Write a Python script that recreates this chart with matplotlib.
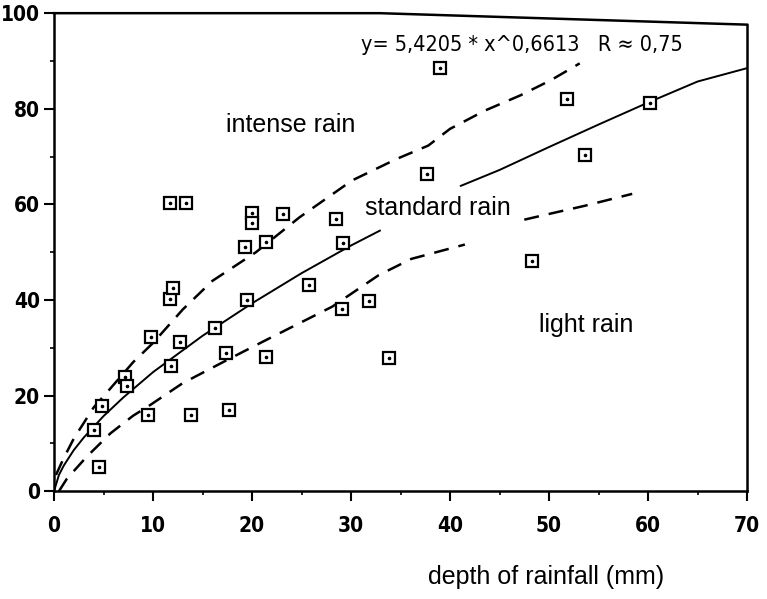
import matplotlib
matplotlib.use("Agg")
import matplotlib.pyplot as plt
from matplotlib.lines import Line2D
from matplotlib import font_manager

# Observed points (depth of rainfall mm, y value)
obs_x = [4.0, 4.5, 4.8, 7.2, 7.4, 9.5, 9.8, 11.8, 11.7, 12.0, 11.7, 13.3, 12.7,
         13.8, 16.3, 17.4, 17.7, 19.3, 19.5, 20.0, 20.0, 21.4, 21.4, 23.1, 25.8,
         28.5, 29.2, 29.1, 31.8, 33.8, 37.7, 39.0, 48.3, 51.8, 53.6, 60.2]
obs_y = [12.8, 5.0, 17.8, 23.9, 22.0, 15.9, 32.2, 26.2, 40.2, 42.5, 60.3, 60.3, 31.2,
         15.9, 34.1, 28.9, 16.9, 51.0, 40.0, 58.2, 56.2, 52.1, 28.0, 58.0, 43.1,
         57.0, 51.9, 38.1, 39.8, 27.8, 66.3, 88.5, 48.2, 82.0, 70.4, 81.3]

# Fitted curve (standard rain), split around its label
std1_x = [0.0, 0.5, 1, 2, 3, 5, 7, 10, 15, 20, 25, 30, 33]
std1_y = [0.0, 3.4, 5.4, 8.6, 11.2, 15.7, 19.6, 24.9, 32.5, 39.3, 45.6, 51.4, 54.6]
std2_x = [41, 45, 50, 55, 60, 65, 70]
std2_y = [63.8, 67.2, 72.0, 76.7, 81.3, 85.7, 88.5]

# Upper envelope (intense rain)
up_x = [0.2, 1, 2, 4, 5.7, 8, 10, 13, 16, 20.4, 24.8, 30.1, 34.6, 37.8, 40,
        43.5, 47.1, 50.2, 53.1]
up_y = [3.4, 7.0, 11.0, 17.5, 21.5, 27.0, 31.0, 38.0, 44.0, 50.0, 57.3, 65.0,
        69.5, 72.3, 75.8, 79.6, 82.8, 86.0, 89.5]

# Lower envelope (light rain), split where the gap is
lo1_x = [0.5, 1.3, 3.3, 5.7, 8, 9.7, 13, 18, 21.4, 28.1, 32.8, 36.1, 41.5]
lo1_y = [0.0, 2.6, 7.2, 12.1, 15.8, 18.0, 22.6, 28.0, 31.6, 38.6, 45.2, 48.6, 51.6]
lo2_x = [47.5, 50, 53.6, 58.4]
lo2_y = [56.8, 58.0, 59.7, 62.2]

x_ticks = [0, 10, 20, 30, 40, 50, 60, 70]
y_ticks = [0, 20, 40, 60, 80, 100]

equation = "y= 5,4205 * x^0,6613   R \u2248 0,75"
labels = ["intense rain", "standard rain", "light rain"]
label_pos = [(23.9, 76.7), (38.8, 59.3), (53.8, 34.8)]

# pick a narrow font if one is installed
names = {f.name for f in font_manager.fontManager.ttflist}
narrow = "DejaVu Sans"
for cand in ["Liberation Sans Narrow", "DejaVu Sans Condensed"]:
    if cand in names:
        narrow = cand
        break

fig = plt.figure(figsize=(7.67, 5.99), dpi=100)
ax = fig.add_axes([0.0704, 0.180, 0.9036, 0.798])
ax.set_xlim(0, 70)
ax.set_ylim(0, 100)

lw_curve = 1.4
ax.plot(std1_x, std1_y, color="black", lw=lw_curve, solid_capstyle="butt")
ax.plot(std2_x, std2_y, color="black", lw=lw_curve, solid_capstyle="butt")
ax.plot(up_x, up_y, color="black", lw=1.8, linestyle=(0, (6, 4)))
ax.plot(lo1_x, lo1_y, color="black", lw=1.8, linestyle=(0, (6, 4)))
ax.plot(lo2_x, lo2_y, color="black", lw=1.8, linestyle=(0, (6, 4)))

ax.plot(obs_x, obs_y, linestyle="none", marker="s", ms=8, mfc="white",
        mec="black", mew=1.6, zorder=5)
ax.plot(obs_x, obs_y, linestyle="none", marker="o", ms=1.6, mfc="black",
        mec="black", zorder=6)

for t, (lx, ly) in zip(labels, label_pos):
    ax.text(lx, ly, t, ha="center", va="center", fontsize=18,
            family="Liberation Sans")
ax.text(31.0, 93.3, equation, ha="left", va="center", fontsize=15.5,
        family=narrow, fontstretch="condensed")

# Frame: top edge slightly skewed as in the scan
ax.spines["top"].set_visible(False)
for s in ["left", "bottom", "right"]:
    ax.spines[s].set_linewidth(1.8)
ax.spines["right"].set_bounds(0, 97.6)
ax.add_line(Line2D([0, 0.47, 1.0], [1.0, 1.0, 0.976], transform=ax.transAxes,
                   color="black", lw=1.8, clip_on=False))

ax.set_xticks(x_ticks)
ax.set_yticks(y_ticks)
ax.set_xticks([5, 15, 25, 35, 45, 55, 65], minor=True)
ax.set_yticks([10, 30, 50, 70, 90], minor=True)
ax.tick_params(which="major", direction="out", length=7, width=1.5)
ax.tick_params(which="minor", direction="out", length=3, width=1.2)
ax.tick_params(axis="x", pad=11)
ax.tick_params(axis="y", pad=3)
for lab in ax.get_xticklabels() + ax.get_yticklabels():
    lab.set_fontfamily(narrow)
    lab.set_fontstretch("condensed")
    lab.set_fontweight("bold")
    lab.set_fontsize(15)

fig.text(546 / 767, 1 - 577 / 599, "depth of rainfall (mm)", ha="center",
         va="center", fontsize=18, family="Liberation Sans")

fig.savefig("out.png", dpi=100, facecolor="white")
